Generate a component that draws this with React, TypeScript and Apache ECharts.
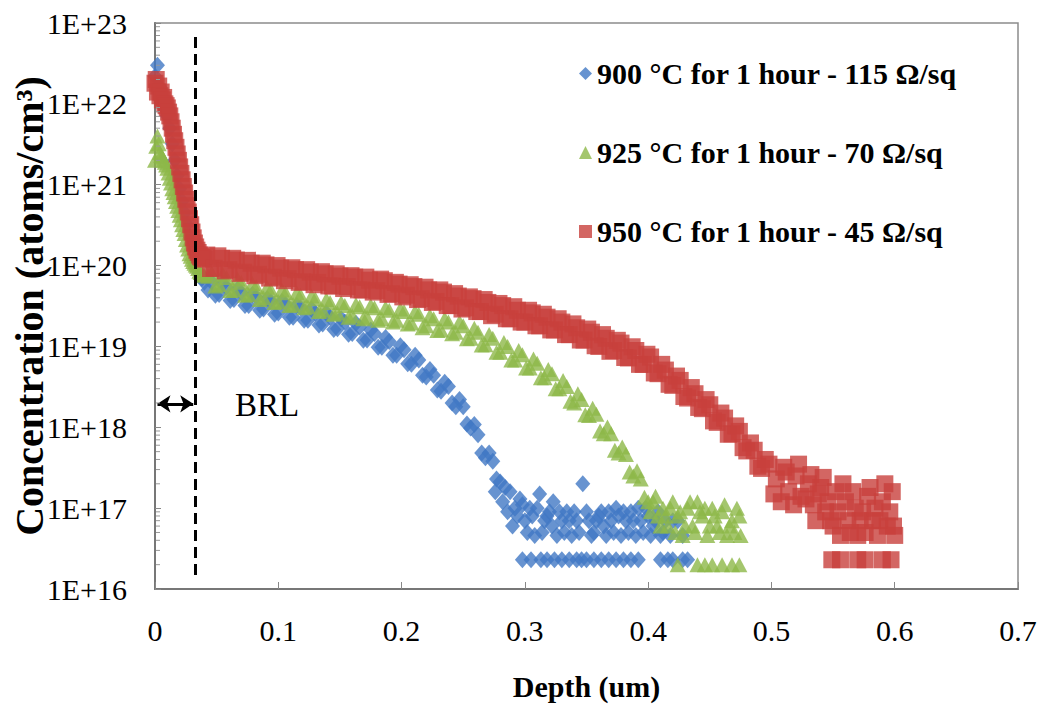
import React, { useEffect, useRef } from "react";
import * as echarts from "echarts";

// ---------- DATA (depth in um, concentration in atoms/cm3) ----------
const xTickLabels = ["0", "0.1", "0.2", "0.3", "0.4", "0.5", "0.6", "0.7"];
const yTickLabels = ["1E+16", "1E+17", "1E+18", "1E+19", "1E+20", "1E+21", "1E+22", "1E+23"];

const seriesNames = [
  "900 °C for 1 hour - 115 Ω/sq",
  "925 °C for 1 hour - 70 Ω/sq",
  "950 °C for 1 hour - 45 Ω/sq",
];

// ---- 900 °C ----
const surface900: [number, number][] = [
  [0.000, 2.2e22], [0.002, 3.0e22], [0.004, 1.6e22], [0.006, 1.1e22], [0.008, 8.9e21], [0.010, 7.1e21],
  [0.012, 5.0e21], [0.014, 3.2e21], [0.016, 2.0e21], [0.018, 1.3e21], [0.020, 8.9e20], [0.022, 6.3e20],
  [0.024, 4.5e20], [0.026, 3.2e20], [0.028, 2.3e20], [0.030, 1.8e20], [0.032, 1.4e20], [0.034, 1.1e20],
  [0.036, 8.0e19], [0.038, 6.9e19], [0.040, 6.2e19], [0.043, 5.0e19],
];
const bulk900: [number, number][] = [
  [0.046, 6.2e19], [0.049, 4.3e19], [0.052, 4.4e19], [0.055, 5.9e19], [0.058, 5.4e19], [0.061, 3.7e19],
  [0.064, 3.8e19], [0.067, 5.1e19], [0.070, 4.6e19], [0.073, 3.2e19], [0.076, 3.2e19], [0.079, 4.4e19],
  [0.082, 4.1e19], [0.085, 2.8e19], [0.088, 2.9e19], [0.091, 3.9e19], [0.094, 3.6e19], [0.097, 2.5e19],
  [0.100, 2.6e19], [0.103, 3.6e19], [0.106, 3.3e19], [0.109, 2.3e19], [0.112, 2.3e19], [0.115, 3.2e19],
  [0.118, 3.0e19], [0.121, 2.1e19], [0.124, 2.1e19], [0.127, 2.9e19], [0.130, 2.6e19], [0.133, 1.84e19],
  [0.136, 1.9e19], [0.139, 2.6e19], [0.142, 2.3e19], [0.145, 1.62e19], [0.148, 1.66e19], [0.151, 2.2e19],
  [0.154, 2.0e19], [0.157, 1.41e19], [0.160, 1.45e19], [0.163, 1.93e19], [0.166, 1.74e19], [0.169, 1.19e19],
  [0.172, 1.2e19], [0.175, 1.6e19], [0.178, 1.45e19], [0.181, 9.8e18], [0.184, 9.8e18], [0.187, 1.29e19],
  [0.190, 1.15e19], [0.193, 7.8e18], [0.196, 7.8e18], [0.199, 1.02e19], [0.202, 9.1e18], [0.205, 6.1e18],
  [0.208, 6.0e18], [0.211, 7.8e18], [0.214, 6.8e18], [0.217, 4.4e18], [0.220, 4.2e18], [0.223, 5.2e18],
  [0.226, 4.4e18], [0.229, 2.9e18], [0.232, 2.8e18], [0.235, 3.6e18], [0.238, 3.2e18], [0.241, 2.0e18],
  [0.244, 1.8e18], [0.247, 2.2e18], [0.250, 1.8e18], [0.253, 1.1e18], [0.256, 9.8e17], [0.259, 1.08e18],
  [0.262, 8.1e17], [0.265, 4.8e17], [0.268, 4.2e17], [0.271, 4.8e17], [0.274, 3.8e17], [0.277, 2.3e17],
  [0.280, 2.1e17], [0.284, 1.8e17],
];
const tail900: [number, number][] = [
  [0.276, 1.6e17], [0.282, 1.2e17], [0.286, 9e16], [0.288, 1.6e17], [0.290, 6e16], [0.292, 1.0e17],
  [0.294, 8e16], [0.296, 1.3e17], [0.298, 1.1e17], [0.300, 7e16], [0.302, 5e16], [0.304, 1.0e17],
  [0.306, 8e16], [0.308, 4.6e16], [0.310, 1.0e17], [0.312, 1.5e17], [0.314, 5e16], [0.316, 7e16],
  [0.318, 8e16], [0.320, 9e16], [0.322, 6e16], [0.323, 1.2e17], [0.326, 4.6e16], [0.328, 9e16],
  [0.330, 7e16], [0.332, 5e16], [0.334, 9e16], [0.336, 7e16], [0.338, 4.6e16], [0.340, 9e16],
  [0.342, 7e16], [0.344, 5e16], [0.347, 2.0e17], [0.350, 9e16], [0.352, 7e16], [0.354, 4.6e16],
  [0.356, 5e16], [0.358, 7e16], [0.360, 8e16], [0.362, 9e16], [0.364, 6e16], [0.366, 4.6e16],
  [0.368, 9e16], [0.370, 7e16], [0.372, 5e16], [0.374, 1.0e17], [0.376, 8e16], [0.378, 4.6e16],
  [0.380, 9e16], [0.382, 7e16], [0.384, 5e16], [0.386, 9e16], [0.388, 7e16], [0.390, 4.6e16],
  [0.392, 1.0e17], [0.394, 7e16], [0.396, 5e16], [0.398, 1.0e17], [0.400, 8e16], [0.402, 4.6e16],
  [0.404, 6e16], [0.406, 7e16], [0.408, 9e16], [0.410, 4.6e16], [0.412, 5e16], [0.414, 7e16],
  [0.418, 4.6e16], [0.420, 7e16], [0.424, 7e16], [0.428, 4.6e16],
  [0.298, 2.3e16], [0.305, 2.3e16], [0.313, 2.3e16], [0.318, 2.3e16], [0.324, 2.3e16], [0.330, 2.3e16],
  [0.336, 2.3e16], [0.342, 2.3e16], [0.346, 2.3e16], [0.350, 2.3e16], [0.356, 2.3e16], [0.362, 2.3e16],
  [0.368, 2.3e16], [0.374, 2.3e16], [0.380, 2.3e16], [0.386, 2.3e16], [0.392, 2.3e16], [0.410, 2.3e16],
  [0.416, 2.3e16], [0.420, 2.3e16], [0.428, 2.3e16], [0.432, 2.3e16],
];

// ---- 925 °C ----
const surface925: [number, number][] = [
  [0.000, 2.0e21], [0.001, 3.0e21], [0.002, 4.0e21], [0.003, 3.2e21], [0.004, 2.5e21], [0.005, 2.3e21],
  [0.006, 2.2e21], [0.007, 2.0e21], [0.008, 1.9e21], [0.009, 1.75e21], [0.010, 1.6e21], [0.011, 1.4e21],
  [0.012, 1.2e21], [0.013, 1.05e21], [0.014, 8.9e20], [0.015, 8.0e20], [0.016, 7.1e20], [0.017, 6.2e20],
  [0.018, 5.4e20], [0.019, 4.8e20], [0.020, 4.2e20], [0.021, 3.7e20], [0.022, 3.2e20], [0.023, 2.8e20],
  [0.024, 2.5e20], [0.025, 2.1e20], [0.026, 1.8e20], [0.027, 1.6e20], [0.028, 1.4e20], [0.029, 1.3e20],
  [0.030, 1.2e20], [0.031, 1.12e20], [0.032, 1.07e20], [0.033, 1.02e20], [0.034, 9.8e19], [0.035, 9.2e19],
  [0.036, 8.5e19], [0.037, 8.2e19], [0.038, 7.9e19], [0.039, 7.7e19], [0.040, 7.6e19], [0.043, 7.4e19],
];
const bulk925: [number, number][] = [
  [0.046, 8.1e19], [0.049, 5.6e19], [0.052, 5.8e19], [0.055, 7.8e19], [0.058, 7.1e19], [0.061, 4.9e19],
  [0.064, 5.0e19], [0.067, 6.8e19], [0.070, 6.2e19], [0.073, 4.3e19], [0.076, 4.4e19], [0.079, 6.0e19],
  [0.082, 5.5e19], [0.085, 3.8e19], [0.088, 4.0e19], [0.091, 5.4e19], [0.094, 5.0e19], [0.097, 3.5e19],
  [0.100, 3.6e19], [0.103, 5.0e19], [0.106, 4.6e19], [0.109, 3.2e19], [0.112, 3.3e19], [0.115, 4.6e19],
  [0.118, 4.3e19], [0.121, 3.0e19], [0.124, 3.1e19], [0.127, 4.2e19], [0.130, 3.9e19], [0.133, 2.7e19],
  [0.136, 2.8e19], [0.139, 3.8e19], [0.142, 3.5e19], [0.145, 2.5e19], [0.148, 2.6e19], [0.151, 3.5e19],
  [0.154, 3.2e19], [0.157, 2.3e19], [0.160, 2.4e19], [0.163, 3.3e19], [0.166, 3.1e19], [0.169, 2.2e19],
  [0.172, 2.3e19], [0.175, 3.2e19], [0.178, 3.0e19], [0.181, 2.1e19], [0.184, 2.2e19], [0.187, 3.0e19],
  [0.190, 2.8e19], [0.193, 2.0e19], [0.196, 2.1e19], [0.199, 2.9e19], [0.202, 2.7e19], [0.205, 1.9e19],
  [0.208, 1.95e19], [0.211, 2.7e19], [0.214, 2.5e19], [0.217, 1.7e19], [0.220, 1.8e19], [0.223, 2.4e19],
  [0.226, 2.2e19], [0.229, 1.57e19], [0.232, 1.6e19], [0.235, 2.2e19], [0.238, 2.0e19], [0.241, 1.43e19],
  [0.244, 1.5e19], [0.247, 2.0e19], [0.250, 1.8e19], [0.253, 1.24e19], [0.256, 1.26e19], [0.259, 1.68e19],
  [0.262, 1.5e19], [0.265, 1.04e19], [0.268, 1.05e19], [0.271, 1.4e19], [0.274, 1.26e19], [0.277, 8.5e18],
  [0.280, 8.5e18], [0.283, 1.12e19], [0.286, 1.0e19], [0.289, 6.8e18], [0.292, 6.8e18], [0.295, 8.9e18],
  [0.298, 7.9e18], [0.301, 5.4e18], [0.304, 5.4e18], [0.307, 7.0e18], [0.310, 6.2e18], [0.313, 4.1e18],
  [0.316, 4.1e18], [0.319, 5.2e18], [0.322, 4.6e18], [0.325, 3.0e18], [0.328, 3.0e18], [0.331, 3.8e18],
  [0.334, 3.2e18], [0.337, 2.1e18], [0.340, 2.0e18], [0.343, 2.6e18], [0.346, 2.2e18], [0.349, 1.43e18],
  [0.352, 1.4e18], [0.355, 1.72e18], [0.358, 1.45e18], [0.361, 9.0e17], [0.364, 8.3e17], [0.367, 1.01e18],
  [0.370, 8.3e17], [0.373, 5.2e17], [0.376, 4.8e17], [0.379, 5.7e17], [0.382, 4.6e17], [0.385, 2.8e17],
  [0.388, 2.5e17], [0.391, 2.9e17], [0.394, 2.3e17], [0.397, 1.36e17], [0.400, 1.2e17],
];
const tail925: [number, number][] = [
  [0.402, 9e16], [0.404, 1.2e17], [0.406, 1.4e17], [0.408, 8e16], [0.410, 6e16], [0.412, 1.0e17],
  [0.414, 8e16], [0.416, 6e16], [0.418, 1.0e17], [0.420, 1.2e17], [0.422, 5e16], [0.424, 8e16],
  [0.426, 9e16], [0.428, 4.6e16], [0.430, 6e16], [0.432, 1.0e17], [0.434, 1.2e17], [0.436, 6e16],
  [0.438, 5e16], [0.440, 1.2e17], [0.442, 9e16], [0.444, 8e16], [0.446, 1.0e17], [0.448, 4.6e16],
  [0.450, 6e16], [0.452, 1.0e17], [0.454, 8e16], [0.456, 6e16], [0.458, 5e16], [0.460, 9e16],
  [0.462, 1.1e17], [0.464, 4.6e16], [0.466, 6e16], [0.468, 7e16], [0.470, 5e16], [0.472, 1.0e17],
  [0.474, 8e16], [0.475, 4.6e16],
  [0.424, 2.0e16], [0.440, 2.0e16], [0.446, 2.0e16], [0.452, 2.0e16], [0.460, 2.0e16], [0.468, 2.0e16],
  [0.474, 2.0e16],
];

// ---- 950 °C ----
const surface950: [number, number][] = [
  [0.000, 1.8e22], [0.001, 2.0e22], [0.002, 1.4e22], [0.003, 1.66e22], [0.004, 1.26e22], [0.005, 1.4e22],
  [0.006, 1.12e22], [0.007, 1.2e22], [0.008, 1.0e22], [0.009, 9.5e21], [0.010, 8.9e21], [0.011, 7.9e21],
  [0.012, 7.1e21], [0.013, 6.0e21], [0.014, 5.0e21], [0.015, 4.2e21], [0.016, 3.5e21], [0.017, 2.9e21],
  [0.018, 2.4e21], [0.019, 2.0e21], [0.020, 1.66e21], [0.021, 1.38e21], [0.022, 1.15e21], [0.023, 9.5e20],
  [0.024, 7.9e20], [0.025, 6.6e20], [0.026, 5.5e20], [0.027, 4.6e20], [0.028, 3.8e20], [0.029, 3.2e20],
  [0.030, 2.6e20], [0.031, 2.2e20], [0.032, 1.9e20], [0.033, 1.7e20], [0.034, 1.55e20], [0.035, 1.45e20],
  [0.036, 1.35e20], [0.037, 1.29e20], [0.038, 1.26e20], [0.039, 1.23e20], [0.040, 1.2e20],
];
const bulk950: [number, number][] = [
  [0.042, 1.35e20], [0.045, 9.2e19], [0.048, 9.3e19], [0.051, 1.32e20], [0.054, 1.23e20], [0.057, 8.6e19],
  [0.060, 8.9e19], [0.063, 1.23e20], [0.066, 1.17e20], [0.069, 8.0e19], [0.072, 8.3e19], [0.075, 1.16e20],
  [0.078, 1.07e20], [0.081, 7.5e19], [0.084, 7.8e19], [0.087, 1.07e20], [0.090, 1.02e20], [0.093, 7.0e19],
  [0.096, 7.2e19], [0.099, 1.0e20], [0.102, 9.3e19], [0.105, 6.5e19], [0.108, 6.9e19], [0.111, 9.4e19],
  [0.114, 8.9e19], [0.117, 6.2e19], [0.120, 6.3e19], [0.123, 8.9e19], [0.126, 8.3e19], [0.129, 5.8e19],
  [0.132, 6.2e19], [0.135, 8.4e19], [0.138, 7.9e19], [0.141, 5.6e19], [0.144, 5.6e19], [0.147, 7.9e19],
  [0.150, 7.4e19], [0.153, 5.2e19], [0.156, 5.5e19], [0.159, 7.5e19], [0.162, 7.2e19], [0.165, 5.0e19],
  [0.168, 5.0e19], [0.171, 7.2e19], [0.174, 6.6e19], [0.177, 4.7e19], [0.180, 4.9e19], [0.183, 6.8e19],
  [0.186, 6.5e19], [0.189, 4.4e19], [0.192, 4.5e19], [0.195, 6.2e19], [0.198, 5.9e19], [0.201, 4.1e19],
  [0.204, 4.3e19], [0.207, 5.8e19], [0.210, 5.5e19], [0.213, 3.8e19], [0.216, 3.9e19], [0.219, 5.4e19],
  [0.222, 5.0e19], [0.225, 3.5e19], [0.228, 3.6e19], [0.231, 5.0e19], [0.234, 4.7e19], [0.237, 3.2e19],
  [0.240, 3.2e19], [0.243, 4.5e19], [0.246, 4.2e19], [0.249, 2.9e19], [0.252, 3.0e19], [0.255, 4.1e19],
  [0.258, 3.9e19], [0.261, 2.7e19], [0.264, 2.7e19], [0.267, 3.8e19], [0.270, 3.5e19], [0.273, 2.4e19],
  [0.276, 2.5e19], [0.279, 3.4e19], [0.282, 3.2e19], [0.285, 2.2e19], [0.288, 2.2e19], [0.291, 3.1e19],
  [0.294, 2.8e19], [0.297, 2.0e19], [0.300, 2.0e19], [0.303, 2.8e19], [0.306, 2.6e19], [0.309, 1.8e19],
  [0.312, 1.8e19], [0.315, 2.5e19], [0.318, 2.3e19], [0.321, 1.6e19], [0.324, 1.6e19], [0.327, 2.2e19],
  [0.330, 2.0e19], [0.333, 1.4e19], [0.336, 1.4e19], [0.339, 1.9e19], [0.342, 1.7e19], [0.345, 1.2e19],
  [0.348, 1.2e19], [0.351, 1.64e19], [0.354, 1.5e19], [0.357, 1.02e19], [0.360, 1.0e19], [0.363, 1.4e19],
  [0.366, 1.26e19], [0.369, 8.7e18], [0.372, 8.9e18], [0.375, 1.19e19], [0.378, 1.1e19], [0.381, 7.3e18],
  [0.384, 7.2e18], [0.387, 9.9e18], [0.390, 8.9e18], [0.393, 6.0e18], [0.396, 6.0e18], [0.399, 8.0e18],
  [0.402, 7.4e18], [0.405, 4.7e18], [0.408, 4.6e18], [0.411, 6.0e18], [0.414, 5.1e18], [0.417, 3.4e18],
  [0.420, 3.3e18], [0.423, 4.3e18], [0.426, 3.8e18], [0.429, 2.4e18], [0.432, 2.3e18], [0.435, 3.1e18],
  [0.438, 2.6e18], [0.441, 1.76e18], [0.444, 1.7e18], [0.447, 2.2e18], [0.450, 1.9e18], [0.453, 1.2e18],
  [0.456, 1.15e18], [0.459, 1.5e18], [0.462, 1.3e18], [0.465, 8.2e17], [0.468, 8.3e17], [0.471, 1.04e18],
  [0.474, 8.9e17], [0.477, 5.6e17], [0.480, 5.1e17], [0.483, 6.4e17], [0.486, 5.2e17], [0.489, 3.3e17],
  [0.492, 3.1e17], [0.495, 4.0e17], [0.498, 3.5e17],
];
const tail950: [number, number][] = [
  [0.502, 1.5e17], [0.504, 2.3e17], [0.508, 1.2e17], [0.510, 3.2e17], [0.512, 2.8e17], [0.514, 1.6e17],
  [0.518, 1.1e17], [0.520, 2.5e17], [0.522, 3.5e17], [0.524, 1.4e17], [0.528, 1.3e17], [0.530, 2.0e17],
  [0.532, 2.6e17], [0.534, 1.1e17], [0.536, 7e16], [0.538, 1.5e17], [0.540, 1.8e17], [0.542, 2.4e17],
  [0.544, 9e16], [0.546, 1.2e17], [0.548, 7e16], [0.550, 6e16], [0.552, 1.6e17], [0.554, 9e16],
  [0.556, 4.6e16], [0.558, 2.0e17], [0.560, 1.2e17], [0.562, 7e16], [0.564, 5e16], [0.566, 1.6e17],
  [0.568, 1.0e17], [0.570, 4.6e16], [0.572, 7e16], [0.574, 9e16], [0.576, 5e16], [0.578, 1.4e17],
  [0.580, 1.8e17], [0.582, 7e16], [0.584, 1.0e17], [0.586, 4.6e16], [0.588, 7e16], [0.590, 1.2e17],
  [0.592, 2.0e17], [0.594, 6e16], [0.596, 9e16], [0.598, 1.6e17], [0.599, 6e16], [0.600, 4.6e16],
  [0.549, 2.3e16], [0.556, 2.3e16], [0.570, 2.3e16], [0.576, 2.3e16], [0.590, 2.3e16], [0.597, 2.3e16],
];

const profile900 = [...surface900, ...bulk900, ...tail900];
const profile925 = [...surface925, ...bulk925, ...tail925];
const profile950 = [...surface950, ...bulk950, ...tail950];

// BRL annotation (depth of boron rich layer) and arrow level
const brlDepth = 0.033;
const brlLineRange = [6.7e22, 1.4e16];
const brlArrow = { from: 0.002, to: 0.031, level: 1.95e18 };

const colors = ["#4178C4", "#8DB848", "#C8403C"];
const FONT = "'Liberation Serif', 'Times New Roman', Times, 'DejaVu Serif', serif";

export default function App() {
  const ref = useRef<HTMLDivElement>(null);

  useEffect(() => {
    if (!ref.current) return;
    const chart = echarts.init(ref.current, null, { renderer: "svg" });

    const minorTicks: [number, number][] = [];
    for (let k = 16; k < 23; k++) {
      for (let m = 2; m <= 9; m++) minorTicks.push([0, m * Math.pow(10, k)]);
    }

    const option: any = {
      animation: false,
      backgroundColor: "#fff",
      grid: {
        left: 155,
        right: 24,
        top: 23,
        bottom: 119,
        show: true,
        borderColor: "#8c8c8c",
        borderWidth: 1.5,
        containLabel: false,
        outerBoundsMode: "none",
      },
      legend: {
        orient: "vertical",
        left: 574,
        top: 53,
        itemGap: 48,
        itemWidth: 13,
        itemHeight: 13,
        data: seriesNames,
        textStyle: {
          fontFamily: FONT,
          fontSize: 30,
          fontWeight: "bold",
          color: "#000",
          lineHeight: 31,
        },
      },
      xAxis: {
        type: "value",
        min: 0,
        max: 0.7,
        interval: 0.1,
        name: "Depth (um)",
        nameLocation: "middle",
        nameGap: 82,
        nameMoveOverlap: false,
        nameTextStyle: { fontFamily: FONT, fontSize: 30, fontWeight: "bold", color: "#000" },
        axisLine: { show: true, lineStyle: { color: "#777", width: 2 } },
        axisTick: { show: true, inside: true, length: 7, lineStyle: { color: "#888" } },
        axisLabel: {
          fontFamily: FONT,
          fontSize: 30,
          color: "#000",
          margin: 26,
          formatter: (v: number) => xTickLabels[Math.round(v * 10)] ?? "",
        },
        splitLine: { show: false },
      },
      yAxis: {
        type: "log",
        logBase: 10,
        min: 1e16,
        max: 1e23,
        splitNumber: 7,
        name: "Concentration (atoms/cm³)",
        nameLocation: "middle",
        nameRotate: 90,
        nameGap: 106,
        nameMoveOverlap: false,
        nameTextStyle: { fontFamily: FONT, fontSize: 40, lineHeight: 40, fontWeight: "bold", color: "#000" },
        axisLine: { show: true, lineStyle: { color: "#777", width: 2 } },
        axisTick: { show: true, inside: true, length: 6, lineStyle: { color: "#888" } },
        axisLabel: {
          fontFamily: FONT,
          fontSize: 30,
          color: "#000",
          margin: 28,
          formatter: (v: number) => yTickLabels[Math.round(Math.log10(v)) - 16] ?? "",
        },
        splitLine: { show: false },
      },
      graphic: [
        {
          type: "text",
          left: 235,
          top: 388,
          style: { text: "BRL", fontFamily: FONT, fontSize: 33, fill: "#000" },
        },
      ],
      series: [
        {
          name: seriesNames[0],
          type: "scatter",
          symbol: "diamond",
          symbolSize: [15, 17],
          itemStyle: { color: colors[0] },
          data: profile900,
          z: 2,
        },
        {
          name: seriesNames[1],
          type: "scatter",
          symbol: "triangle",
          symbolSize: [16, 15],
          itemStyle: { color: colors[1] },
          data: profile925,
          z: 3,
        },
        {
          name: seriesNames[2],
          type: "scatter",
          symbol: "rect",
          symbolSize: 17,
          itemStyle: { color: colors[2] },
          data: profile950,
          z: 4,
        },
        {
          name: "minor",
          type: "custom",
          silent: true,
          clip: false,
          z: 5,
          data: minorTicks,
          renderItem: (params: any, api: any) => {
            const p = api.coord([0, api.value(1)]);
            return {
              type: "line",
              shape: { x1: p[0] + 1, y1: p[1], x2: p[0] + 5, y2: p[1] },
              style: { stroke: "#999", lineWidth: 1 },
            };
          },
        },
        {
          name: "brlLine",
          type: "scatter",
          data: [],
          z: 6,
          markLine: {
            silent: true,
            symbol: "none",
            label: { show: false },
            lineStyle: { color: "#000", width: 3, type: [11, 6] },
            data: [[{ coord: [brlDepth, brlLineRange[0]] }, { coord: [brlDepth, brlLineRange[1]] }]],
          },
        },
        {
          name: "brlArrow",
          type: "scatter",
          data: [],
          z: 6,
          markLine: {
            silent: true,
            symbol: ["arrow", "arrow"],
            symbolSize: [13, 13],
            label: { show: false },
            lineStyle: { color: "#000", width: 3, type: "solid" },
            data: [[{ coord: [brlArrow.from, brlArrow.level] }, { coord: [brlArrow.to, brlArrow.level] }]],
          },
        },
      ],
    };

    chart.setOption(option);
    return () => chart.dispose();
  }, []);

  return (
    <div
      ref={ref}
      style={{ position: "fixed", left: 0, top: 0, width: 1042, height: 708, background: "#fff" }}
    />
  );
}
